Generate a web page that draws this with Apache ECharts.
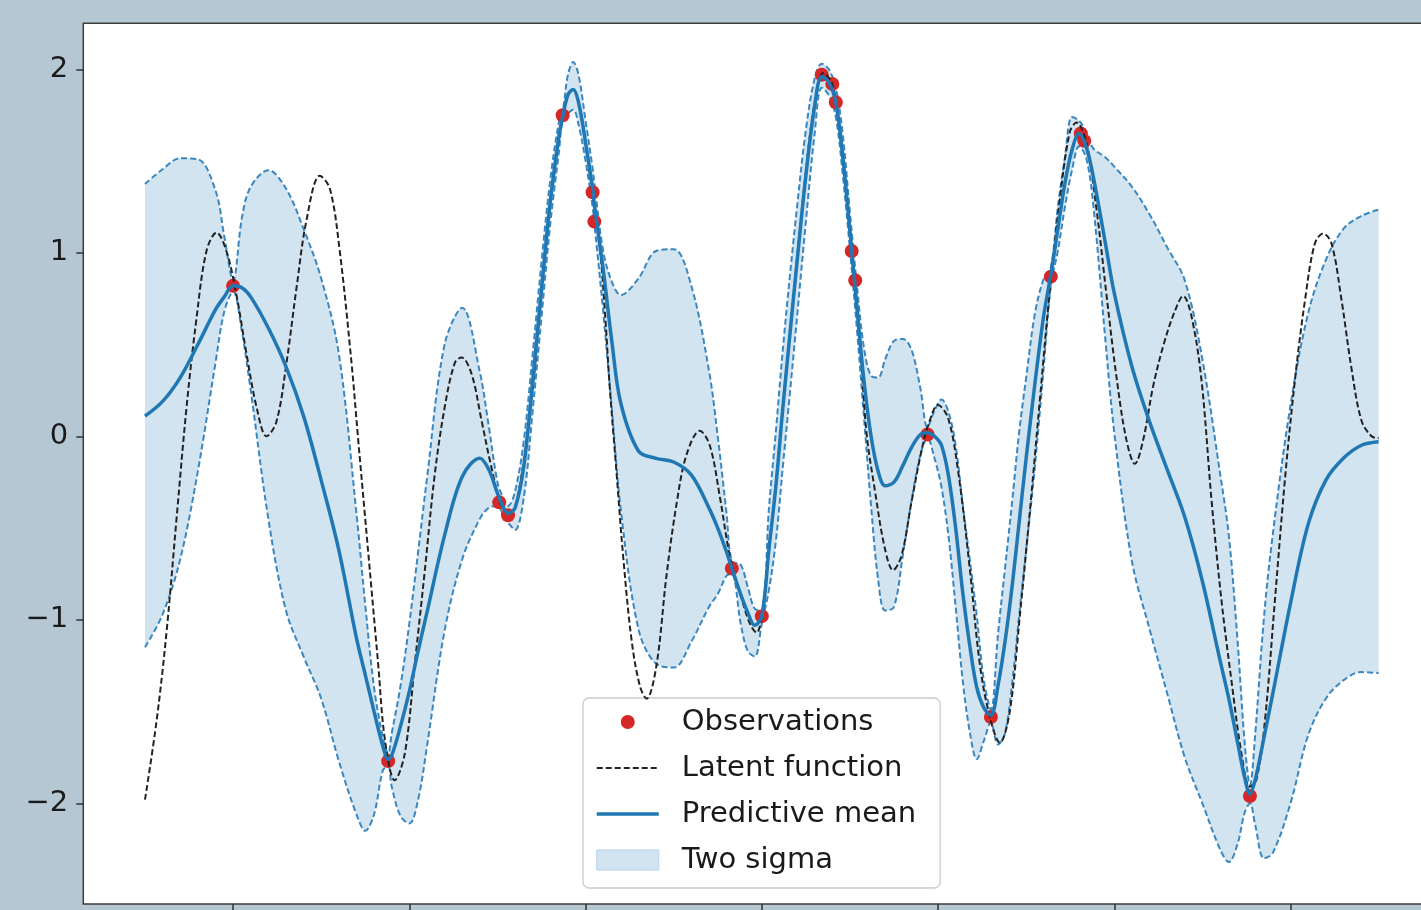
<!DOCTYPE html>
<html>
<head>
<meta charset="utf-8">
<script src="https://cdn.jsdelivr.net/npm/echarts@6/dist/echarts.min.js"></script>
<style>
html,body{margin:0;padding:0;background:#b4c7d2;}
#chart{width:1421px;height:910px;}
</style>
</head>
<body>
<div id="chart"></div>
<script>
// ---- data ----
const bandX = [-3.5,-3.4,-3.3,-3.2,-3.1,-3.05,-3.0,-2.95,-2.9,-2.8,-2.7,-2.6,-2.5,-2.4,-2.3,-2.25,-2.2,-2.15,-2.12,-2.1,-2.05,-2.0,-1.95,-1.9,-1.8,-1.7,-1.6,-1.55,-1.5,-1.47,-1.44,-1.4,-1.35,-1.3,-1.25,-1.2,-1.15,-1.13,-1.1,-1.07,-1.04,-1.0,-0.96,-0.95,-0.9,-0.85,-0.8,-0.7,-0.6,-0.5,-0.4,-0.3,-0.25,-0.2,-0.17,-0.12,-0.08,-0.04,0.0,0.04,0.08,0.12,0.16,0.2,0.25,0.3,0.34,0.38,0.42,0.46,0.5,0.54,0.58,0.62,0.66,0.7,0.75,0.8,0.85,0.9,0.94,0.98,1.02,1.06,1.1,1.14,1.18,1.22,1.26,1.3,1.34,1.38,1.42,1.46,1.5,1.55,1.6,1.64,1.68,1.72,1.76,1.8,1.84,1.88,1.95,2.0,2.1,2.2,2.3,2.4,2.5,2.6,2.65,2.7,2.74,2.77,2.8,2.85,2.9,3.0,3.1,3.2,3.3,3.4,3.5];
const meanY = [0.11,0.19,0.32,0.50,0.69,0.76,0.82,0.81,0.76,0.59,0.38,0.11,-0.24,-0.62,-1.10,-1.30,-1.50,-1.69,-1.76,-1.74,-1.58,-1.39,-1.17,-0.96,-0.54,-0.22,-0.12,-0.18,-0.31,-0.38,-0.42,-0.39,-0.16,0.30,0.80,1.28,1.64,1.74,1.86,1.89,1.82,1.60,1.35,1.26,0.91,0.51,0.18,-0.08,-0.12,-0.14,-0.21,-0.39,-0.50,-0.63,-0.72,-0.86,-0.96,-1.03,-0.98,-0.62,-0.27,0.16,0.56,0.95,1.42,1.80,1.96,1.93,1.82,1.52,1.12,0.70,0.30,0.0,-0.19,-0.27,-0.25,-0.16,-0.06,0.01,0.02,0.0,-0.05,-0.22,-0.50,-0.85,-1.14,-1.37,-1.48,-1.52,-1.36,-1.12,-0.82,-0.47,-0.12,0.29,0.66,0.88,1.13,1.38,1.56,1.65,1.58,1.42,1.05,0.78,0.38,0.08,-0.18,-0.44,-0.79,-1.22,-1.43,-1.67,-1.86,-1.95,-1.87,-1.64,-1.40,-0.91,-0.48,-0.24,-0.12,-0.05,-0.03];
const upperY = [1.375,1.455,1.515,1.51,1.34,1.09,0.85,1.19,1.36,1.45,1.35,1.13,0.86,0.45,-0.42,-0.92,-1.37,-1.64,-1.73,-1.62,-1.36,-1.02,-0.63,-0.23,0.50,0.70,0.35,0.06,-0.25,-0.33,-0.38,-0.30,-0.02,0.45,0.95,1.40,1.72,1.77,1.97,2.04,1.97,1.72,1.46,1.38,1.01,0.84,0.77,0.86,1.01,1.02,0.82,0.36,0.00,-0.42,-0.68,-0.70,-0.82,-0.94,-0.95,-0.40,0.03,0.48,0.88,1.25,1.67,1.95,2.03,2.00,1.90,1.64,1.22,0.82,0.48,0.33,0.32,0.42,0.52,0.53,0.47,0.26,0.05,0.14,0.20,0.13,-0.05,-0.37,-0.67,-0.98,-1.33,-1.49,-1.08,-0.72,-0.36,0.02,0.32,0.67,0.86,0.92,1.25,1.52,1.74,1.72,1.66,1.57,1.52,1.47,1.36,1.21,1.03,0.85,0.42,-0.20,-0.54,-1.12,-1.67,-1.90,-1.62,-0.98,-0.53,0.17,0.67,0.96,1.13,1.20,1.235];
const lowerY = [-1.15,-0.97,-0.67,-0.19,0.40,0.68,0.79,0.57,0.25,-0.45,-0.95,-1.20,-1.43,-1.77,-2.06,-2.15,-2.06,-1.82,-1.80,-1.91,-2.07,-2.11,-1.98,-1.69,-1.06,-0.67,-0.45,-0.39,-0.38,-0.42,-0.47,-0.51,-0.33,0.14,0.65,1.16,1.56,1.72,1.76,1.78,1.70,1.50,1.25,1.16,0.68,0.14,-0.40,-1.05,-1.24,-1.26,-1.12,-0.93,-0.86,-0.76,-0.75,-1.02,-1.17,-1.20,-1.02,-0.84,-0.57,-0.16,0.24,0.65,1.17,1.65,1.90,1.86,1.74,1.42,1.02,0.58,0.10,-0.38,-0.78,-0.95,-0.93,-0.65,-0.35,-0.10,-0.01,-0.12,-0.28,-0.55,-0.93,-1.33,-1.61,-1.76,-1.66,-1.56,-1.68,-1.62,-1.35,-0.98,-0.62,-0.16,0.38,0.82,1.01,1.25,1.45,1.58,1.52,1.27,0.52,0.02,-0.68,-1.05,-1.40,-1.75,-2.00,-2.25,-2.32,-2.22,-2.05,-2.00,-2.12,-2.30,-2.27,-2.00,-1.63,-1.43,-1.33,-1.285,-1.29];
const latentX = [-3.5,-3.434,-3.377,-3.321,-3.264,-3.208,-3.151,-3.094,-3.038,-2.981,-2.924,-2.867,-2.81,-2.754,-2.697,-2.64,-2.583,-2.508,-2.451,-2.395,-2.328,-2.291,-2.253,-2.215,-2.177,-2.139,-2.083,-2.026,-1.969,-1.912,-1.856,-1.799,-1.742,-1.704,-1.647,-1.591,-1.534,-1.477,-1.43,-1.383,-1.307,-1.25,-1.2,-1.15,-1.1,-1.07,-1.03,-1.0,-0.96,-0.919,-0.891,-0.863,-0.825,-0.787,-0.739,-0.692,-0.654,-0.598,-0.541,-0.484,-0.427,-0.352,-0.295,-0.238,-0.182,-0.125,-0.068,-0.03,0.0,0.04,0.08,0.12,0.16,0.2,0.25,0.3,0.35,0.4,0.44,0.48,0.52,0.56,0.594,0.641,0.698,0.745,0.793,0.849,0.906,0.944,1.0,1.057,1.114,1.18,1.237,1.294,1.351,1.407,1.464,1.521,1.577,1.634,1.691,1.748,1.786,1.842,1.899,1.956,2.013,2.069,2.117,2.164,2.22,2.28,2.343,2.391,2.438,2.495,2.552,2.609,2.666,2.722,2.769,2.807,2.854,2.911,2.968,3.025,3.082,3.138,3.185,3.233,3.29,3.346,3.403,3.46,3.5];
const latentY = [-1.98,-1.55,-1.06,-0.45,0.16,0.64,1.01,1.11,1.01,0.77,0.45,0.16,0.0,0.08,0.40,0.81,1.18,1.42,1.35,1.01,0.40,-0.01,-0.42,-0.83,-1.24,-1.65,-1.875,-1.73,-1.24,-0.73,-0.21,0.16,0.40,0.43,0.34,0.09,-0.17,-0.38,-0.42,-0.32,0.20,0.78,1.27,1.64,1.86,1.89,1.78,1.60,1.32,1.03,0.69,0.27,-0.19,-0.65,-1.11,-1.36,-1.43,-1.25,-0.76,-0.37,-0.10,0.03,-0.05,-0.33,-0.65,-0.85,-1.02,-1.07,-0.98,-0.62,-0.26,0.17,0.57,0.97,1.44,1.82,1.98,1.92,1.68,1.33,0.91,0.48,0.02,-0.29,-0.61,-0.73,-0.65,-0.36,-0.08,0.06,0.17,0.10,-0.19,-0.72,-1.24,-1.53,-1.67,-1.50,-0.98,-0.41,0.19,0.79,1.29,1.66,1.71,1.60,1.24,0.77,0.32,-0.02,-0.15,-0.02,0.27,0.50,0.68,0.765,0.655,0.305,-0.35,-0.90,-1.34,-1.73,-1.91,-1.87,-1.56,-0.90,-0.24,0.305,0.74,1.05,1.105,1.05,0.74,0.37,0.085,0.0,-0.01];
const obsX = [-3.0,-2.12,-1.49,-1.44,-1.13,-0.96,-0.95,-0.17,0.0,0.34,0.40,0.42,0.51,0.53,0.94,1.30,1.64,1.81,1.83,2.77];
const obsY = [0.82,-1.77,-0.36,-0.43,1.75,1.33,1.17,-0.72,-0.98,1.97,1.92,1.82,1.01,0.85,0.01,-1.53,0.87,1.65,1.61,-1.96];
const yTicks = [-2, -1, 0, 1, 2];
const xTicks = [-3, -2, -1, 0, 1, 2, 3];

// ---- build series data ----
const pairs = (xs, ys) => xs.map((x, i) => [x, ys[i]]);
// band as a stack: lower bound, then the band height on top of it (columns: [value, x])
const bandBase = bandX.map((x, i) => [lowerY[i], x]);
const bandHeight = bandX.map((x, i) => [upperY[i] - lowerY[i], x]);
const SM = 0.35;
const FONT = 'DejaVu Sans';
const edgeStyle = {color: '#3a87c0', width: 2, type: [6, 3]};
const DOT_ICON = 'path://M0,0M20,20M3,10A7,7,0,1,1,17,10A7,7,0,1,1,3,10Z';

const chart = echarts.init(document.getElementById('chart'), null, {renderer: 'canvas'});
chart.setOption({
  backgroundColor: '#b4c7d2',
  animation: false,
  grid: {
    left: 83.3, top: 23.3, right: -19.3, bottom: 6,
    show: true, backgroundColor: '#ffffff', borderColor: '#3c3c3c', borderWidth: 1.5,
    outerBoundsMode: 'none', containLabel: false
  },
  xAxis: {
    type: 'value', min: -3.85, max: 3.85,
    axisLine: {show: false, onZero: false}, splitLine: {show: false},
    axisTick: {show: true, inside: false, length: 7, customValues: xTicks, lineStyle: {color: '#333', width: 1.5}},
    axisLabel: {show: false}
  },
  yAxis: {
    type: 'value', min: -2.5488, max: 2.2507,
    axisLine: {show: false, onZero: false}, splitLine: {show: false},
    axisTick: {show: true, inside: false, length: 7, customValues: yTicks, lineStyle: {color: '#333', width: 1.5}},
    axisLabel: {
      show: true, customValues: yTicks, margin: 15,
      fontFamily: FONT, fontSize: 29, color: '#1a1a1a',
      formatter: v => (v < 0 ? '\u2212' + Math.abs(v) : String(v))
    }
  },
  legend: {
    orient: 'vertical', left: 583, top: 698, selectedMode: false,
    itemWidth: 62, itemHeight: 20, itemGap: 12,
    padding: [7, 24, 11, 12],
    backgroundColor: 'rgba(255,255,255,0.85)', borderColor: '#cccccc', borderWidth: 1.3, borderRadius: 6,
    textStyle: {fontFamily: FONT, fontSize: 29, color: '#1a1a1a', lineHeight: 34, padding: [0, 0, 0, 18]},
    data: [
      {name: 'Observations', icon: DOT_ICON, itemStyle: {color: '#d62728', opacity: 1}},
      {name: 'Latent function', itemStyle: {color: 'rgba(0,0,0,0)', borderWidth: 0, opacity: 0}, lineStyle: {color: '#222', width: 2, type: [6, 3]}},
      {name: 'Predictive mean', itemStyle: {color: 'rgba(0,0,0,0)', borderWidth: 0, opacity: 0}, lineStyle: {color: '#1f77b4', width: 3.5}},
      {name: 'Two sigma', icon: 'rect', itemStyle: {color: '#d2e4f0', borderColor: '#b7d2e6', borderWidth: 1}}
    ]
  },
  series: [
    {name: 'band base', type: 'line', data: bandBase, encode: {x: 1, y: 0}, stack: 'band', stackStrategy: 'all',
     symbol: 'none', smooth: SM, lineStyle: {opacity: 0, width: 0}, silent: true, z: 1},
    {name: 'Two sigma', type: 'line', data: bandHeight, encode: {x: 1, y: 0}, stack: 'band', stackStrategy: 'all',
     symbol: 'none', smooth: SM, lineStyle: {opacity: 0, width: 0},
     areaStyle: {color: '#d2e4f0', opacity: 1}, silent: true, z: 1},
    {name: 'upper bound', type: 'line', data: pairs(bandX, upperY), symbol: 'none', smooth: SM,
     lineStyle: edgeStyle, silent: true, z: 3},
    {name: 'lower bound', type: 'line', data: pairs(bandX, lowerY), symbol: 'none', smooth: SM,
     lineStyle: edgeStyle, silent: true, z: 3},
    {name: 'Observations', type: 'scatter', data: pairs(obsX, obsY), symbolSize: 14,
     itemStyle: {color: '#d62728', opacity: 1}, z: 4},
    {name: 'Latent function', type: 'line', data: pairs(latentX, latentY), symbol: 'none', smooth: SM,
     lineStyle: {color: '#222', width: 2, type: [6, 3]}, z: 5},
    {name: 'Predictive mean', type: 'line', data: pairs(bandX, meanY), symbol: 'none', smooth: SM,
     lineStyle: {color: '#1f77b4', width: 3.5}, z: 6}
  ]
});
</script>
</body>
</html>
